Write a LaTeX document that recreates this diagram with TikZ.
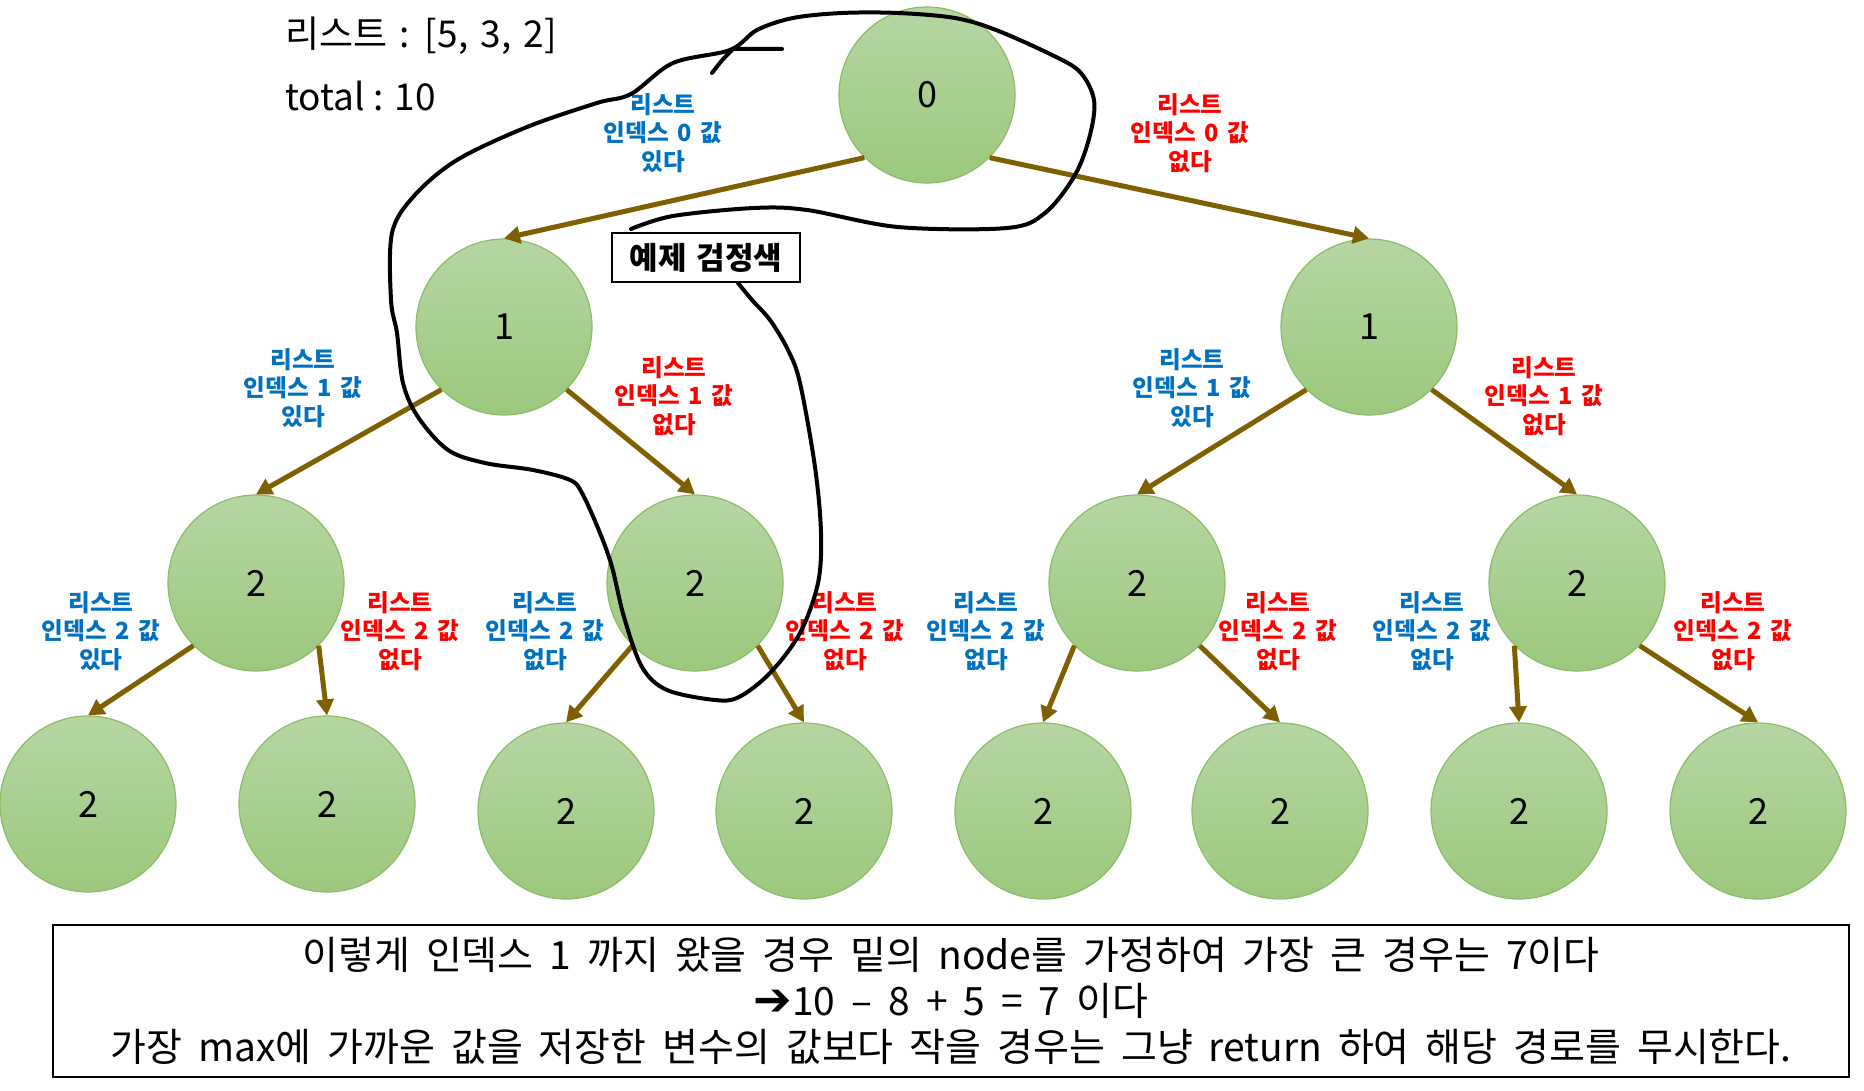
\documentclass[tikz,border=0pt]{standalone}
\usepackage{fontspec}
\setmainfont{Noto Sans CJK KR}
\newfontfamily\symfont{DejaVu Sans}
\usetikzlibrary{arrows.meta}
\definecolor{arrowbrown}{RGB}{127,96,0}
\definecolor{yesblue}{RGB}{0,112,192}
\definecolor{rimgreen}{RGB}{140,188,104}
\definecolor{topgreen}{RGB}{182,214,163}
\definecolor{botgreen}{RGB}{155,200,125}
\newcommand{\labelsp}{\spaceskip 0.36em\relax}
\newcommand{\titlesp}{\spaceskip 0.33em\relax}
\newcommand{\notesp}{\spaceskip 0.41em\relax}
\tikzstyle{state} = [circle, minimum size=88pt, inner sep=0pt, draw=rimgreen, line width=0.6pt, top color=topgreen, bottom color=botgreen, font=\fontsize{18}{20}\selectfont]
\tikzstyle{yes} = [align=center, inner sep=0pt, text=yesblue, font=\fontsize{11.8}{14.25}\selectfont\bfseries\labelsp]
\tikzstyle{no} = [align=center, inner sep=0pt, text=red, font=\fontsize{11.8}{14.25}\selectfont\bfseries\labelsp]
\tikzstyle{arrow} = [line width=2.5pt, draw=arrowbrown, -{Triangle[length=8pt,width=8.5pt]}]
\tikzstyle{pen} = [line width=2pt, black, line join=round, line cap=round]

\begin{document}
\begin{tikzpicture}[x=0.5pt, y=-0.5pt]
\useasboundingbox (0,0) rectangle (1864,1091);

\node (list) [anchor=west, inner sep=0pt, font=\fontsize{18.5}{22}\selectfont\titlesp] at (285,36) {리스트 : [5, 3, 2]};
\node (total) [anchor=west, inner sep=0pt, font=\fontsize{18.5}{22}\selectfont] at (285,96) {total : 10};

\node (root) [state] at (927,95) {0};
\node (n1a) [state] at (504,327) {1};
\node (n1b) [state] at (1369,327) {1};
\node (n2a) [state] at (256,583) {2};
\node (n2b) [state] at (695,583) {2};
\node (n2c) [state] at (1137,583) {2};
\node (n2d) [state] at (1577,583) {2};
\node (n3a) [state] at (88,804) {2};
\node (n3b) [state] at (327,804) {2};
\node (n3c) [state] at (566,811) {2};
\node (n3d) [state] at (804,811) {2};
\node (n3e) [state] at (1043,811) {2};
\node (n3f) [state] at (1280,811) {2};
\node (n3g) [state] at (1519,811) {2};
\node (n3h) [state] at (1758,811) {2};

\draw [arrow] (root.south west) -- (n1a.north);
\draw [arrow] (root.south east) -- (n1b.north);
\draw [arrow] (n1a.south west) -- (n2a.north);
\draw [arrow] (n1a.south east) -- (n2b.north);
\draw [arrow] (n1b.south west) -- (n2c.north);
\draw [arrow] (n1b.south east) -- (n2d.north);
\draw [arrow] (n2a.south west) -- (n3a.north);
\draw [arrow] (n2a.south east) -- (n3b.north);
\draw [arrow] (n2b.south west) -- (n3c.north);
\draw [arrow] (n2b.south east) -- (n3d.north);
\draw [arrow] (n2c.south west) -- (n3e.north);
\draw [arrow] (n2c.south east) -- (n3f.north);
\draw [arrow] (n2d.south west) -- (n3g.north);
\draw [arrow] (n2d.south east) -- (n3h.north);

\node (y0) [yes] at (663,133) {리스트\\인덱스 0 값\\있다};
\node (x0) [no] at (1190,133) {리스트\\인덱스 0 값\\없다};
\node (y1a) [yes] at (303,388) {리스트\\인덱스 1 값\\있다};
\node (x1a) [no] at (674,396) {리스트\\인덱스 1 값\\없다};
\node (y1b) [yes] at (1192,388) {리스트\\인덱스 1 값\\있다};
\node (x1b) [no] at (1544,396) {리스트\\인덱스 1 값\\없다};
\node (y2a) [yes] at (101,631) {리스트\\인덱스 2 값\\있다};
\node (x2a) [no] at (400,631) {리스트\\인덱스 2 값\\없다};
\node (y2b) [yes] at (545,631) {리스트\\인덱스 2 값\\없다};
\node (x2b) [no] at (845,631) {리스트\\인덱스 2 값\\없다};
\node (y2c) [yes] at (986,631) {리스트\\인덱스 2 값\\없다};
\node (x2c) [no] at (1278,631) {리스트\\인덱스 2 값\\없다};
\node (y2d) [yes] at (1432,631) {리스트\\인덱스 2 값\\없다};
\node (x2d) [no] at (1733,631) {리스트\\인덱스 2 값\\없다};

\node (example) [draw, line width=1pt, fill=white, minimum width=94pt, minimum height=24.5pt, inner sep=0pt, font=\fontsize{15.5}{17}\selectfont\bfseries\titlesp] at (706,257.5) {예제 검정색};

\node (note) [draw, line width=1.2pt, minimum width=898pt, minimum height=76pt, align=center, font=\fontsize{19.5}{23}\selectfont\notesp] at (951,1001) {이렇게 인덱스 1 까지 왔을 경우 밑의 node를 가정하여 가장 큰 경우는 7이다\\{\symfont\fontsize{23}{23}\selectfont ➔}10 – 8 + 5 = 7 이다\\가장 max에 가까운 값을 저장한 변수의 값보다 작을 경우는 그냥 return 하여 해당 경로를 무시한다.};

\draw [pen] plot[smooth, tension=0.55] coordinates {(631,229) (673,216) (754,208) (807,210) (898,227) (1007,228) (1045,213) (1075,175) (1090,135) (1094,100) (1080,72) (1052,55) (996,30) (955,18) (898,13) (842,13) (793,18) (757,30) (730,50) (673,63) (631,94) (597,103) (527,127) (457,160) (414,196) (392,233) (391,300) (397,333) (403,383) (418,417) (448,450) (485,463) (533,470) (570,480) (582,493) (600,533) (612,567) (624,617) (642,667) (667,690) (715,700) (739,697) (770,673) (800,633) (818,583) (821,533) (815,467) (800,383) (788,350) (770,320) (752,300) (738,283)};
\draw [pen] (712,73) .. controls (722,60) .. (733,49) -- (782,49);
\end{tikzpicture}
\end{document}
